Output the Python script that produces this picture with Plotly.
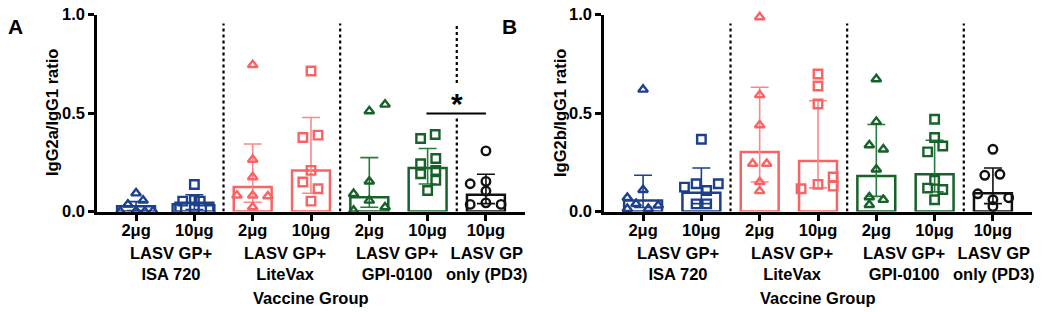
import plotly.graph_objects as go

# ---------------- data ----------------
dose_labels = ["2μg", "10μg", "2μg", "10μg", "2μg", "10μg", "10μg"]
group_names = ["LASV GP+<br>ISA 720", "LASV GP+<br>LiteVax", "LASV GP+<br>GPI-0100", "LASV GP<br>only (PD3)"]
group_centers = [0.6, 2.55, 4.48, 6.02]

group_colors = ["#1c3f8e", "#1c3f8e", "#f86464", "#f86464", "#17622a", "#17622a", "#111111"]
err_colors = ["#1c3f8e", "#1c3f8e", "#f98a8a", "#f98a8a", "#2a7a3c", "#2a7a3c", "#111111"]
symbols = ["triangle-up-open", "square-open", "triangle-up-open", "square-open",
           "triangle-up-open", "square-open", "circle-open"]

# Panel A: IgG2a/IgG1 ratio
a_vals = [
    [0.093, 0.056, 0.036, 0.0, 0.003, 0.0, 0.002],
    [0.137, 0.06, 0.053, 0.053, 0.015, 0.015, 0.01],
    [0.745, 0.264, 0.175, 0.082, 0.082, 0.078, 0.022],
    [0.714, 0.376, 0.388, 0.209, 0.15, 0.116, 0.053],
    [0.51, 0.544, 0.153, 0.09, 0.056, 0.005, 0.022],
    [0.371, 0.391, 0.269, 0.243, 0.192, 0.209, 0.158, 0.107],
    [0.308, 0.141, 0.153, 0.104, 0.036, 0.044, 0.036],
]
a_jitter = [
    [0, 0.12, -0.14, -0.27, 0, 0.15, 0.29],
    [0, 0, -0.2, 0.1, -0.3, 0, 0.27],
    [0, 0, 0, 0, -0.27, 0.26, 0],
    [0, -0.14, 0.12, 0, -0.14, 0.12, 0],
    [0, 0.27, 0, -0.27, 0, -0.27, 0.27],
    [-0.12, 0.13, 0.14, -0.12, -0.12, 0.14, 0.14, 0],
    [0, -0.27, 0, 0, -0.27, 0, 0.26],
]
a_bar = [0.027, 0.045, 0.124, 0.209, 0.073, 0.221, 0.085]
a_hi = [0.05, 0.085, 0.343, 0.478, 0.274, 0.32, 0.189]
a_lo = [0.005, 0.01, 0.047, 0.093, 0.022, 0.14, 0.04]

# Panel B: IgG2b/IgG1 ratio
b_vals = [
    [0.62, 0.11, 0.07, 0.039, 0.014, 0.014, 0.031],
    [0.367, 0.141, 0.124, 0.141, 0.107, 0.039, 0.039],
    [0.988, 0.592, 0.439, 0.243, 0.243, 0.15, 0.104],
    [0.699, 0.638, 0.546, 0.138, 0.116, 0.175, 0.129],
    [0.673, 0.456, 0.337, 0.316, 0.214, 0.073, 0.06, 0.034],
    [0.469, 0.376, 0.333, 0.303, 0.158, 0.119, 0.112, 0.06],
    [0.316, 0.184, 0.189, 0.09, 0.07, 0.06, 0.026],
]
b_jitter = [
    [0, 0, -0.27, -0.12, -0.27, 0.09, 0.26],
    [0, -0.09, -0.29, 0.29, 0.09, -0.09, 0.09],
    [0, 0, 0, -0.12, 0.12, 0, 0],
    [0, 0, 0, 0, -0.29, 0.26, 0.26],
    [0, 0, -0.12, 0.12, 0, -0.12, 0.12, -0.12],
    [0, 0, 0.14, -0.12, 0, -0.12, 0.14, 0],
    [0, -0.14, 0.12, -0.26, 0.27, 0, 0],
]
b_bar = [0.056, 0.095, 0.303, 0.257, 0.18, 0.189, 0.093]
b_hi = [0.184, 0.221, 0.631, 0.563, 0.442, 0.362, 0.221]
b_lo = [0.02, 0.04, 0.15, 0.12, 0.077, 0.1, 0.04]

sig_pair = [4.98, 6.0]
sig_y = 0.498
dividers = [1.5, 3.5, 5.5]

FONT = "Liberation Sans, Arial, sans-serif"

fig = go.Figure()


def add_panel(vals, jit, bars, hi, lo, xa, ya):
    for i in range(len(bars)):
        fig.add_trace(go.Bar(
            x=[i], y=[bars[i]], width=0.65, xaxis=xa, yaxis=ya,
            marker=dict(color="rgba(255,255,255,0)", line=dict(color=group_colors[i], width=2.5)),
            error_y=dict(type="data", symmetric=False, array=[hi[i] - bars[i]],
                         arrayminus=[bars[i] - lo[i]], color=err_colors[i], thickness=1.6, width=9),
            showlegend=False, hoverinfo="skip"))
    for i in range(len(vals)):
        fig.add_trace(go.Scatter(
            x=[i + j for j in jit[i]], y=vals[i], mode="markers", xaxis=xa, yaxis=ya,
            marker=dict(symbol=symbols[i], size=8.5, color=group_colors[i],
                        line=dict(width=2.4, color=group_colors[i])),
            cliponaxis=False, showlegend=False))


add_panel(a_vals, a_jitter, a_bar, a_hi, a_lo, "x", "y")
add_panel(b_vals, b_jitter, b_bar, b_hi, b_lo, "x2", "y2")

xrange = [-0.67, 6.67]
ydom = [0.3221, 0.9529]
axis_common = dict(showline=True, linecolor="black", linewidth=2.5, ticks="outside",
                   tickwidth=2.5, tickcolor="black", showgrid=False, zeroline=False,
                   automargin=False,
                   tickfont=dict(family=FONT, size=16.5, color="black", weight="bold"))

fig.update_layout(
    template="none",
    width=1050, height=312, margin=dict(l=0, r=0, t=0, b=0, autoexpand=False),
    plot_bgcolor="white", paper_bgcolor="white", barmode="overlay",
    xaxis=dict(domain=[97 / 1050, 525 / 1050], range=xrange, tickvals=list(range(7)),
               ticktext=dose_labels, ticklen=7, ticklabelstandoff=-5, anchor="y", **axis_common),
    yaxis=dict(domain=ydom, range=[0, 1], tickvals=[0, 0.5, 1.0], tickformat=".1f",
               ticklen=6, anchor="x", **axis_common),
    xaxis2=dict(domain=[604 / 1050, 1032 / 1050], range=xrange, tickvals=list(range(7)),
                ticktext=dose_labels, ticklen=7, ticklabelstandoff=-5, anchor="y2", **axis_common),
    yaxis2=dict(domain=ydom, range=[0, 1], tickvals=[0, 0.5, 1.0], tickformat=".1f",
                ticklen=6, anchor="x2", **axis_common),
)

shapes = []
dot = dict(color="black", width=2.2, dash="dot")
for k, xv in enumerate(dividers):
    if k == 2:
        shapes.append(dict(type="line", xref="x", yref="y", x0=xv, x1=xv, y0=0, y1=0.475, line=dot))
        shapes.append(dict(type="line", xref="x", yref="y", x0=xv, x1=xv, y0=0.653, y1=0.955, line=dot))
    else:
        shapes.append(dict(type="line", xref="x", yref="y", x0=xv, x1=xv, y0=0, y1=0.955, line=dot))
    shapes.append(dict(type="line", xref="x2", yref="y2", x0=xv, x1=xv, y0=0, y1=0.955, line=dot))
shapes.append(dict(type="line", xref="x", yref="y", x0=sig_pair[0], x1=sig_pair[1], y0=sig_y, y1=sig_y,
                   line=dict(color="black", width=1.8)))
fig.update_layout(shapes=shapes)

ann = []
for xr in ["x", "x2"]:
    for name, cx in zip(group_names, group_centers):
        ann.append(dict(x=cx, y=1 - 263 / 312, xref=xr, yref="paper", text="<b>" + name + "</b>",
                        showarrow=False, font=dict(family=FONT, size=16.5, color="black"),
                        xanchor="center", yanchor="middle", align="center"))
    ann.append(dict(x=3.0, y=1 - 298 / 312, xref=xr, yref="paper", text="<b>Vaccine Group</b>",
                    showarrow=False, font=dict(family=FONT, size=16.5, color="black"),
                    xanchor="center", yanchor="middle"))
ann.append(dict(x=52 / 1050, y=1 - 113 / 312, xref="paper", yref="paper", text="<b>IgG2a/IgG1 ratio</b>",
                textangle=-90, showarrow=False, font=dict(family=FONT, size=16.5, color="black"),
                xanchor="center", yanchor="middle"))
ann.append(dict(x=560 / 1050, y=1 - 113 / 312, xref="paper", yref="paper", text="<b>IgG2b/IgG1 ratio</b>",
                textangle=-90, showarrow=False, font=dict(family=FONT, size=16.5, color="black"),
                xanchor="center", yanchor="middle"))
ann.append(dict(x=15 / 1050, y=1 - 26 / 312, xref="paper", yref="paper", text="<b>A</b>",
                showarrow=False, font=dict(family=FONT, size=21, color="black"),
                xanchor="center", yanchor="middle"))
ann.append(dict(x=509 / 1050, y=1 - 26 / 312, xref="paper", yref="paper", text="<b>B</b>",
                showarrow=False, font=dict(family=FONT, size=21, color="black"),
                xanchor="center", yanchor="middle"))
ann.append(dict(x=5.5, y=0.455, xref="x", yref="y", text="<b>*</b>",
                showarrow=False, font=dict(family=FONT, size=30, color="black"),
                xanchor="center", yanchor="bottom"))
fig.update_layout(annotations=ann)

fig.write_html("out.html", config={"displayModeBar": False},
               post_script="document.body.style.margin='0';document.body.style.overflow='hidden';")
